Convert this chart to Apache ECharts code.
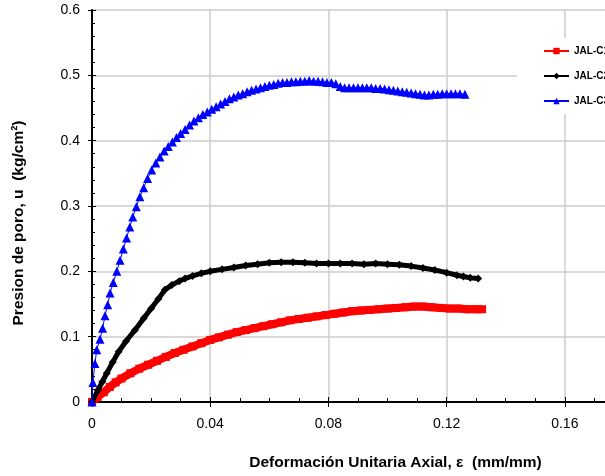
<!DOCTYPE html>
<html>
<head>
<meta charset="utf-8">
<script src="https://cdn.jsdelivr.net/npm/echarts@6/dist/echarts.min.js"></script>
<style>
  html, body { margin: 0; padding: 0; background: #fff; overflow: hidden; }
  /* the original figure is cut off at the right edge, so draw wider and let the window crop it */
  #chart { width: 720px; height: 476px; }
</style>
</head>
<body>
<div id="chart"></div>
<script>
// series names (legend is cut at the right edge in the original)
const seriesNames = ["JAL-C1", "JAL-C2", "JAL-C3"];

// red squares
const redX = [0, 0.002, 0.004, 0.006, 0.008, 0.010, 0.013, 0.016, 0.019, 0.022, 0.025, 0.028, 0.031, 0.034, 0.037,
  0.040, 0.043, 0.046, 0.049, 0.052, 0.055, 0.058, 0.061, 0.064, 0.067, 0.070, 0.073, 0.076, 0.079, 0.082,
  0.085, 0.088, 0.091, 0.094, 0.097, 0.100, 0.103, 0.106, 0.109, 0.112, 0.115, 0.118, 0.121, 0.124, 0.127, 0.130, 0.132];
const redY = [0, 0.008, 0.015, 0.023, 0.030, 0.036, 0.044, 0.051, 0.057, 0.063, 0.069, 0.075, 0.080, 0.085, 0.090,
  0.095, 0.099, 0.103, 0.107, 0.110, 0.113, 0.116, 0.119, 0.122, 0.125, 0.127, 0.129, 0.131, 0.133, 0.135,
  0.137, 0.139, 0.140, 0.141, 0.142, 0.143, 0.144, 0.145, 0.146, 0.146, 0.145, 0.144, 0.143, 0.143, 0.142, 0.142, 0.142];

// black diamonds
const blackX = [0, 0.002, 0.0035, 0.005, 0.007, 0.009, 0.0115, 0.0145, 0.0175, 0.020, 0.0225, 0.0247, 0.027, 0.0295,
  0.0315, 0.034, 0.037, 0.040, 0.044, 0.048, 0.052, 0.056, 0.060, 0.064, 0.068, 0.072, 0.076, 0.080, 0.084,
  0.088, 0.092, 0.096, 0.100, 0.104, 0.108, 0.112, 0.116, 0.120, 0.1235, 0.1257, 0.128, 0.1307];
const blackY = [0, 0.018, 0.031, 0.044, 0.061, 0.077, 0.093, 0.110, 0.128, 0.143, 0.158, 0.172, 0.179, 0.185,
  0.189, 0.193, 0.197, 0.200, 0.203, 0.206, 0.209, 0.211, 0.213, 0.214, 0.214, 0.213, 0.212, 0.212, 0.212,
  0.212, 0.211, 0.212, 0.211, 0.210, 0.208, 0.205, 0.202, 0.198, 0.194, 0.192, 0.190, 0.189];

// blue triangles
const blueX = [0, 0.0003, 0.001, 0.0016, 0.0027, 0.0036, 0.0044, 0.0053, 0.0061, 0.0072, 0.0084, 0.0095, 0.0106,
  0.0117, 0.0128, 0.0138, 0.0150, 0.0162, 0.0175, 0.0188, 0.0202, 0.0216, 0.0230, 0.0244, 0.0258, 0.0272,
  0.0286, 0.0300, 0.0315, 0.0330, 0.0345, 0.0360, 0.0375, 0.0390, 0.0405, 0.0420, 0.0435, 0.0450, 0.0465,
  0.0480, 0.0495, 0.0510, 0.0525, 0.0540, 0.0555, 0.0570, 0.0585, 0.0600, 0.0615, 0.0630, 0.0645, 0.0660,
  0.0675, 0.0690, 0.0705, 0.0720, 0.0735, 0.0750, 0.0765, 0.0780, 0.0795, 0.0810, 0.0825, 0.0840, 0.0855,
  0.0870, 0.0885, 0.0900, 0.0915, 0.0930, 0.0945, 0.0960, 0.0975, 0.0990, 0.1005, 0.1020, 0.1035, 0.1050,
  0.1065, 0.1080, 0.1095, 0.1110, 0.1125, 0.1140, 0.1155, 0.1170, 0.1185, 0.1200, 0.1215, 0.1230, 0.1245, 0.1262];
const blueY = [0, 0.030, 0.059, 0.080, 0.096, 0.113, 0.132, 0.149, 0.167, 0.183, 0.200, 0.217, 0.234,
  0.251, 0.268, 0.283, 0.299, 0.314, 0.328, 0.342, 0.355, 0.366, 0.375, 0.384, 0.391, 0.398,
  0.405, 0.411, 0.417, 0.424, 0.430, 0.435, 0.440, 0.444, 0.448, 0.452, 0.456, 0.460, 0.464,
  0.467, 0.470, 0.472, 0.475, 0.477, 0.479, 0.481, 0.483, 0.485, 0.486, 0.488, 0.489, 0.489,
  0.490, 0.490, 0.491, 0.491, 0.492, 0.491, 0.491, 0.490, 0.489, 0.489, 0.487, 0.483, 0.481,
  0.481, 0.481, 0.481, 0.481, 0.481, 0.481, 0.480, 0.480, 0.479, 0.478, 0.477, 0.476, 0.475,
  0.474, 0.473, 0.472, 0.471, 0.470, 0.470, 0.471, 0.471, 0.472, 0.472, 0.472, 0.472, 0.472, 0.471];

const FONT = "Arial, 'Liberation Sans', sans-serif";

function pairs(xs, ys) {
  return xs.map((x, i) => [x, ys[i]]);
}

const chart = echarts.init(document.getElementById("chart"));

const baseX = { type: "value", min: 0, max: 0.2, interval: 0.04 };
const baseY = { type: "value", min: 0, max: 0.6, interval: 0.1 };

chart.setOption({
  animation: false,
  backgroundColor: "#fff",
  grid: { left: 92, top: 10, width: 591, height: 392 },
  legend: {
    orient: "vertical",
    left: 517,
    top: 38,
    padding: [8, 40, 8, 26],
    backgroundColor: "#fff",
    itemWidth: 25,
    itemHeight: 8,
    itemGap: 15,
    textStyle: { fontFamily: FONT, fontSize: 10, fontWeight: "bold", color: "#000" },
    data: seriesNames,
  },
  xAxis: [
    {
      ...baseX,
      name: "Deformación Unitaria Axial, ε  (mm/mm)",
      nameLocation: "middle",
      nameGap: 53,
      nameTextStyle: { fontFamily: FONT, fontSize: 15.5, fontWeight: "bold", color: "#000", padding: [0, 0, 0, 16] },
      axisLine: { lineStyle: { color: "#000", width: 2 } },
      axisTick: { inside: true, length: 5, lineStyle: { color: "#000", width: 1 } },
      minorTick: { show: true, splitNumber: 4, length: 4, lineStyle: { color: "#000", width: 1 } },
      axisLabel: { fontFamily: FONT, fontSize: 14, color: "#000", margin: 15 },
      splitLine: { show: true, lineStyle: { color: "#cccccc", width: 1.5 } },
    },
    {
      ...baseX,
      position: "bottom",
      axisLine: { show: false },
      axisTick: { inside: false, length: 5, lineStyle: { color: "#000", width: 1 } },
      axisLabel: { show: false },
      splitLine: { show: false },
    },
  ],
  yAxis: [
    {
      ...baseY,
      name: "Presion de poro, u  (kg/cm²)",
      nameLocation: "middle",
      nameGap: 65,
      nameTextStyle: { fontFamily: FONT, fontSize: 15.5, fontWeight: "bold", color: "#000", padding: [0, 34, 0, 0] },
      axisLine: { show: true, lineStyle: { color: "#000", width: 2 } },
      axisTick: { show: true, inside: true, length: 4, lineStyle: { color: "#000", width: 1 } },
      minorTick: { show: true, splitNumber: 5, length: 3, lineStyle: { color: "#000", width: 1 } },
      axisLabel: { fontFamily: FONT, fontSize: 14, color: "#000", margin: 12 },
      splitLine: { show: true, lineStyle: { color: "#cccccc", width: 1.5 } },
    },
    {
      ...baseY,
      position: "left",
      axisLine: { show: false },
      axisTick: { show: true, inside: false, length: 4, lineStyle: { color: "#000", width: 1 } },
      axisLabel: { show: false },
      splitLine: { show: false },
    },
  ],
  series: [
    {
      name: seriesNames[0],
      type: "line",
      data: pairs(redX, redY),
      symbol: "rect",
      symbolSize: 8,
      showAllSymbol: true,
      color: "#ff0000",
      lineStyle: { color: "#ff0000", width: 8 },
      itemStyle: { color: "#ff0000" },
      z: 2,
    },
    {
      name: seriesNames[1],
      type: "line",
      data: pairs(blackX, blackY),
      symbol: "diamond",
      symbolSize: 8,
      showAllSymbol: true,
      color: "#000",
      lineStyle: { color: "#000", width: 5 },
      itemStyle: { color: "#000" },
      z: 3,
    },
    {
      name: seriesNames[2],
      type: "line",
      data: pairs(blueX, blueY),
      symbol: "triangle",
      symbolSize: 9,
      showAllSymbol: true,
      color: "#0000ff",
      lineStyle: { color: "#0000ff", width: 1 },
      itemStyle: { color: "#0000ff" },
      z: 4,
    },
  ],
});
</script>
</body>
</html>
